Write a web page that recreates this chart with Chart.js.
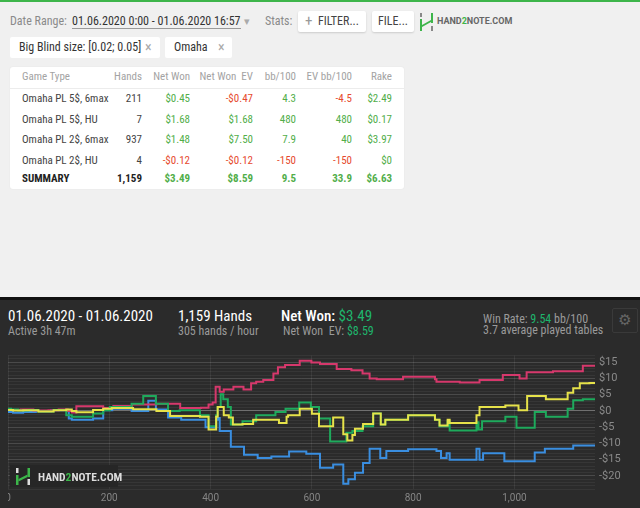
<!DOCTYPE html>
<html><head><meta charset="utf-8">
<script src="https://cdn.jsdelivr.net/npm/chart.js@4.4.0/dist/chart.umd.min.js"></script>
<style>
html,body{margin:0;padding:0;width:640px;height:508px;overflow:hidden;background:#f0f0f0;font-family:"Roboto Condensed","Liberation Sans Narrow",Roboto,sans-serif;}
.a{position:absolute;white-space:nowrap;}
.btn{position:absolute;background:#fff;border-radius:2px;box-shadow:0 1px 2px rgba(0,0,0,0.15);font-size:12px;color:#444;line-height:21px;height:21px;}
.card{position:absolute;left:10px;top:67px;width:394px;height:122px;background:#fff;border-radius:3px;box-shadow:0 0 2px rgba(0,0,0,0.06);font-size:11px;}
.row{position:absolute;left:0;width:394px;height:14px;line-height:14px;color:#444;}
.row span{position:absolute;text-align:right;}
.row span.g{left:12px;text-align:left;}
.hd{color:#a3a3a3;}
.gr{color:#52ae4a;}
.rd{color:#e64a2e;}
.sm{font-weight:bold;color:#222;}
.dark{position:absolute;left:0;top:297px;width:640px;height:211px;background:#2b2b2b;border-top:3px solid #111;box-sizing:border-box;}
.w15{font-size:15px;color:#fff;line-height:18px;}
.g12{font-size:12px;color:#9a9a9a;line-height:14px;}
.gn{color:#1fb56d;}
</style></head><body>
<div class="a" style="left:0;top:0;width:640px;height:2px;background:#3db54a;"></div>

<div class="a" style="left:10px;top:14px;font-size:12px;color:#8a8a8a;line-height:15px;">Date Range:</div>
<div class="a" style="left:72px;top:14px;font-size:12px;color:#333;line-height:14px;border-bottom:1px solid #9a9a9a;">01.06.2020 0:00 - 01.06.2020 16:57</div>
<div class="a" style="left:244px;top:14px;font-size:11px;color:#aaa;line-height:15px;">▾</div>
<div class="a" style="left:265px;top:14px;font-size:12px;color:#8a8a8a;line-height:15px;">Stats:</div>
<div class="btn" style="left:298px;top:11px;width:68px;"><span style="position:absolute;left:7px;color:#999;font-size:15px;">+</span><span style="position:absolute;left:20px;">FILTER...</span></div>
<div class="btn" style="left:372px;top:11px;width:42px;text-align:center;">FILE...</div>
<svg class="a" style="left:420px;top:13px;" width="13" height="18" viewBox="0 0 13 18">
<rect x="0" y="0" width="2" height="4" fill="#888"/><rect x="0" y="6" width="2" height="12" fill="#3db54a"/>
<polygon points="2,12 11,7 11,9 2,14" fill="#3db54a"/>
<rect x="11" y="0" width="2" height="10" fill="#3db54a"/><rect x="11" y="13" width="2" height="5" fill="#888"/>
</svg>
<div class="a" style="left:437px;top:16px;font-size:9px;font-weight:bold;color:#666;line-height:10px;font-family:Roboto,sans-serif;">HAND<span style="color:#3db54a">2</span>NOTE.COM</div>

<div class="btn" style="left:10px;top:37px;width:150px;box-shadow:none;"><span style="position:absolute;left:9px;color:#333;">Big Blind size: [0.02; 0.05]</span><span style="position:absolute;left:135px;color:#aaa;font-size:14px;">×</span></div>
<div class="btn" style="left:165px;top:37px;width:67px;box-shadow:none;"><span style="position:absolute;left:9px;color:#333;">Omaha</span><span style="position:absolute;left:53px;color:#aaa;font-size:14px;">×</span></div>

<div class="card">
 <div class="row hd" style="top:3px;"><span class="g">Game Type</span><span style="right:262px">Hands</span><span style="right:214px">Net Won</span><span style="right:151px">Net Won&nbsp;&nbsp;EV</span><span style="right:108px">bb/100</span><span style="right:52px">EV bb/100</span><span style="right:12px">Rake</span></div>
 <div class="a" style="left:0;top:21px;width:394px;height:1px;background:#ececec;"></div>
 <div class="row" style="top:25px;"><span class="g">Omaha PL 5$, 6max</span><span style="right:262px">211</span><span class="gr" style="right:214px">$0.45</span><span class="rd" style="right:151px">-$0.47</span><span class="gr" style="right:108px">4.3</span><span class="rd" style="right:52px">-4.5</span><span class="gr" style="right:12px">$2.49</span></div>
 <div class="row" style="top:45.5px;"><span class="g">Omaha PL 5$, HU</span><span style="right:262px">7</span><span class="gr" style="right:214px">$1.68</span><span class="gr" style="right:151px">$1.68</span><span class="gr" style="right:108px">480</span><span class="gr" style="right:52px">480</span><span class="gr" style="right:12px">$0.17</span></div>
 <div class="row" style="top:66.3px;"><span class="g">Omaha PL 2$, 6max</span><span style="right:262px">937</span><span class="gr" style="right:214px">$1.48</span><span class="gr" style="right:151px">$7.50</span><span class="gr" style="right:108px">7.9</span><span class="gr" style="right:52px">40</span><span class="gr" style="right:12px">$3.97</span></div>
 <div class="row" style="top:87px;"><span class="g">Omaha PL 2$, HU</span><span style="right:262px">4</span><span class="rd" style="right:214px">-$0.12</span><span class="rd" style="right:151px">-$0.12</span><span class="rd" style="right:108px">-150</span><span class="rd" style="right:52px">-150</span><span class="gr" style="right:12px">$0</span></div>
 <div class="row" style="top:104.5px;font-weight:bold;"><span class="g sm">SUMMARY</span><span class="sm" style="right:262px">1,159</span><span class="gr" style="right:214px">$3.49</span><span class="gr" style="right:151px">$8.59</span><span class="gr" style="right:108px">9.5</span><span class="gr" style="right:52px">33.9</span><span class="gr" style="right:12px">$6.63</span></div>
</div>

<div class="dark"></div>
<div class="a w15" style="left:8px;top:307px;">01.06.2020 - 01.06.2020</div>
<div class="a g12" style="left:8px;top:324px;">Active 3h 47m</div>
<div class="a w15" style="left:178px;top:307px;">1,159 Hands</div>
<div class="a g12" style="left:178px;top:324px;">305 hands / hour</div>
<div class="a w15" style="left:281px;top:307px;font-weight:500;">Net Won: <span class="gn" style="font-weight:400">$3.49</span></div>
<div class="a g12" style="left:283px;top:324px;">Net Won&nbsp;&nbsp;EV: <span class="gn">$8.59</span></div>
<div class="a g12" style="left:483px;top:312px;">Win Rate: <span class="gn">9.54</span> bb/100</div>
<div class="a g12" style="left:483px;top:323px;">3.7 average played tables</div>
<div class="a" style="left:612px;top:308px;width:24px;height:23px;border:1px solid #3a3a3a;border-radius:2px;color:#666;font-size:15px;line-height:23px;text-align:center;font-family:'DejaVu Sans';">⚙</div>

<div class="a" style="left:8px;top:345px;width:632px;height:163px;overflow:hidden;">
 <canvas id="c" style="position:absolute;left:-8px;top:0;width:640px;height:163px;" width="640" height="163"></canvas>
</div>

<div class="a" style="left:10px;top:465px;width:108px;height:22px;background:#262626;"></div>
<svg class="a" style="left:16px;top:468px;" width="14" height="17" viewBox="0 0 14 17">
<rect x="0" y="0" width="2.5" height="5" fill="#ddd"/><rect x="0" y="7" width="2.5" height="10" fill="#3cb64a"/>
<polygon points="2.5,11 11.5,6.5 11.5,9 2.5,13.5" fill="#3cb64a"/>
<rect x="11.5" y="0" width="2.5" height="9" fill="#3cb64a"/><rect x="11.5" y="11" width="2.5" height="6" fill="#ddd"/>
</svg>
<div class="a" style="left:38px;top:470px;font-size:11.5px;font-weight:bold;color:#ddd;line-height:14px;font-family:'Roboto Condensed',Roboto,sans-serif;">HAND<span style="color:#3cb64a">2</span>NOTE.COM</div>

<script>
// Hands at which each series' value changes, and the value from that hand on
const nonShowdownHands = [0,6,25,50,80,100,118,126,135,188,208,245,293,340,381,396,404,410,418,426,445,465,480,490,504,524,533,547,576,599,616,649,678,700,714,728,780,843,846,892,931,977,1010,1024,1076,1135,1148,1159];
const nonShowdownValues = [0,0.5,0.3,0.4,0.1,0.2,0.4,0,-0.5,1.4,0.9,1.5,2.0,2.2,0.9,1.0,2.0,2.6,7.4,5.9,6.6,7.4,6.6,8.5,9.0,9.5,11.5,13.4,14.1,15.4,14.9,14.4,12.9,12.5,11.5,10.0,9.7,10.5,9.7,9.0,8.7,9.5,11.0,10.0,11.9,12.2,13.9,13.9];

const showdownHands = [0,10,30,55,85,110,120,126,168,188,206,244,277,292,316,342,390,411,414,418,440,466,493,520,555,589,616,642,662,672,685,701,714,735,747,790,846,855,866,872,925,931,938,980,1040,1060,1116,1135,1159];
const showdownValues = [0,-0.3,-0.6,-0.3,-0.1,0.2,0.3,-2.3,-2.7,-2.3,0.2,0.7,0,3.1,0.4,-2.0,-2.7,-5.0,-2.7,-2.2,-6.2,-11.0,-13.5,-14.5,-14.0,-12.5,-13.2,-17.5,-16.5,-22.4,-21.0,-19.0,-16.0,-11.6,-14.5,-12.3,-11.8,-12.3,-14.5,-13.0,-15.0,-11.6,-15.0,-13.0,-15.5,-12.8,-11.6,-10.6,-10.6];

const netWonHands = [0,6,20,40,60,90,115,126,168,188,201,244,267,292,316,339,379,396,411,414,420,425,434,440,463,490,528,548,575,598,614,636,668,680,700,721,736,745,790,843,852,868,872,925,929,936,982,1004,1040,1062,1105,1116,1135,1145,1159];
const netWonValues = [0,0.7,0.4,0.1,0.3,-0.2,0.3,-1.3,-1.8,-0.8,0.2,1.2,2.2,4.6,2.2,0,0.2,-1.3,-4.7,-1.3,1.2,5.1,3.6,1.2,-4.2,-3.2,-1.3,-0.3,0.7,2.6,1.2,-2.3,-9.4,-6.7,-6.2,-4.7,-0.8,-4.2,-2.7,-1.3,-2.7,-4.7,-3.2,-6.0,-3.5,-5.7,-3.2,-1.8,-5.2,-0.3,-1.8,0.7,3.3,3.6,3.6];

const evHands = [0,10,30,60,90,115,126,135,168,188,205,247,293,320,343,379,396,411,414,426,436,444,463,484,535,550,553,576,600,614,642,662,670,680,685,701,721,736,745,790,843,852,868,872,925,931,982,1008,1025,1062,1105,1116,1129,1148,1159];
const evValues = [0,0.3,0.1,0.2,-0.2,0.2,0.4,0,-0.4,0.3,0.7,0.9,0.5,0,-1.6,-1.6,-1.8,-5.7,-1.8,1.2,-1.3,-2.0,-4.2,-4.0,-2.7,-3.7,-1.8,-1.3,0.7,-0.9,-4.7,-2.0,-7.2,-9.1,-7.4,-5.5,-4.0,-0.8,-4.2,-2.7,-1.3,-2.7,-4.5,-2.7,-3.7,-1.3,1.2,1.7,0.2,4.6,3.6,5.6,7.0,8.5,8.6];

const xTickStep = 200;
const yMin = -24, yMax = 17;

function pts(h, v){ return h.map((x,i)=>({x:x, y:v[i]})); }
function ds(label, h, v, color){
  return {label, data: pts(h,v), borderColor: color, backgroundColor: color, borderWidth: 2,
          pointRadius: 0, stepped: 'after', fill: false};
}

new Chart(document.getElementById('c'), {
  type: 'line',
  data: { datasets: [
    ds('Net Won EV', evHands, evValues, '#e6e24a'),
    ds('Net Won', netWonHands, netWonValues, '#1eaa5c'),
    ds('Won without showdown', nonShowdownHands, nonShowdownValues, '#d6386c'),
    ds('Won at showdown', showdownHands, showdownValues, '#3a8ee0')
  ]},
  options: {
    responsive: false, animation: false, devicePixelRatio: 1,
    layout: { padding: { left: 8, top: 4, right: 0, bottom: 0 } },
    plugins: { legend: { display: false }, tooltip: { enabled: false } },
    scales: {
      x: { type: 'linear', min: 0, max: 1159,
        afterBuildTicks: s => { s.ticks = s.ticks.filter(t => t.value % xTickStep === 0); },
        afterFit: s => { s.height = 19; },
        ticks: { stepSize: xTickStep, color: '#858585', font: { size: 10, family: 'Roboto' }, padding: 3, maxRotation: 0,
                 callback: v => Number(v).toLocaleString('en-US') },
        grid: { color: 'rgba(255,255,255,0.07)', drawTicks: false },
        border: { display: false }
      },
      y: { position: 'right', min: yMin, max: yMax,
        afterFit: s => { s.width = 45; },
        ticks: { stepSize: 1, autoSkip: false, color: '#8a8a8a', font: { size: 11, family: 'Roboto' }, padding: 4,
                 callback: v => { const r = Math.round(v); return r % 5 === 0 ? (r < 0 ? '-$' + (-r) : '$' + r) : ''; } },
        grid: { drawTicks: false, color: ctx => { const r = Math.round(ctx.tick.value);
                 if (r === 0) return 'rgba(255,255,255,0.33)';
                 if (r % 5 === 0) return 'rgba(255,255,255,0.15)';
                 return 'rgba(255,255,255,0.055)'; } },
        border: { display: false }
      }
    }
  }
});
</script>
</body></html>
